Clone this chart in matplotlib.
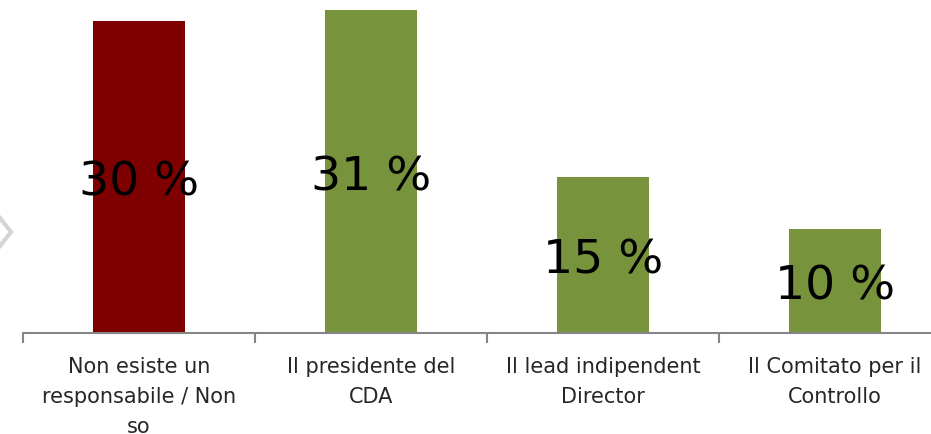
import matplotlib
matplotlib.use('Agg')
import matplotlib.pyplot as plt
from matplotlib.lines import Line2D

categories = [
    'Non esiste un\nresponsabile / Non\nso',
    'Il presidente del\nCDA',
    'Il lead indipendent\nDirector',
    'Il Comitato per il\nControllo',
]
values = [30, 31, 15, 10]
colors = ['#7F0000', '#77933C', '#77933C', '#77933C']

W, H = 931, 434
fig = plt.figure(figsize=(W / 100, H / 100), dpi=100)
fig.patch.set_facecolor('white')

# axes span one category slot of 232 px each; the last slot runs past the right edge
left, bottom, top = 23, 333, 0
ax = fig.add_axes([left / W, (H - bottom) / H, 928 / W, (bottom - top) / H])
ax.set_xlim(-0.5, 3.5)
ax.set_ylim(0, 32)

x = list(range(len(values)))
bars = ax.bar(x, values, width=0.4, color=colors, zorder=2)

# value labels sit a little below the middle of each bar
for xi, v in zip(x, values):
    ax.annotate(f'{v} %', (xi, v / 2), xytext=(0, -4.5), textcoords='offset points',
                ha='center', va='center', fontsize=34, color='black', zorder=3)

for s in ['top', 'right', 'left']:
    ax.spines[s].set_visible(False)
ax.spines['bottom'].set_color('#868686')
ax.spines['bottom'].set_linewidth(1.5)
ax.set_yticks([])

# category boundaries carry the tick marks
ax.set_xticks([-0.5, 0.5, 1.5, 2.5, 3.5])
ax.set_xticklabels([])
ax.tick_params(axis='x', length=7, width=1.5, color='#868686', direction='out')
ax.set_xticks(x, minor=True)
ax.set_xticklabels(categories, minor=True, fontsize=15, color='#262626',
                   linespacing=1.62, va='top')
ax.tick_params(axis='x', which='minor', length=0, pad=17.5)

# small grey chevron at the left edge
fig.add_artist(Line2D([0 / W, 11 / W, 0 / W], [1 - 218 / H, 1 - 232 / H, 1 - 246 / H],
                      color='#d4d4d4', lw=3, solid_joinstyle='miter'))

fig.savefig('out.png', dpi=100, facecolor='white')
